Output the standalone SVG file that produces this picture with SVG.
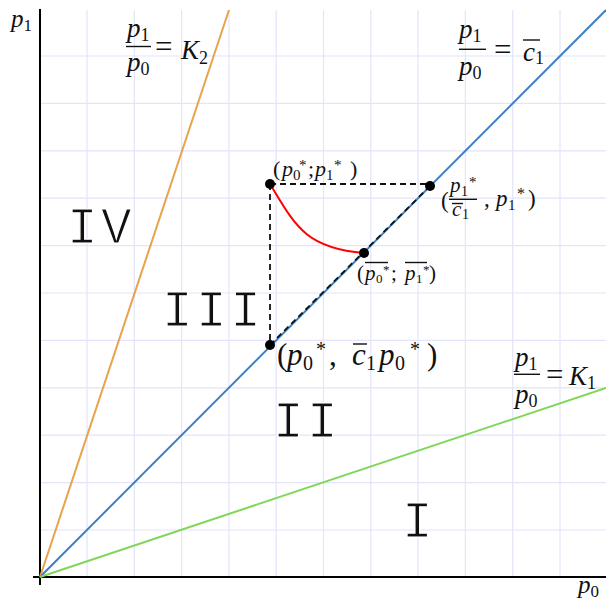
<svg xmlns="http://www.w3.org/2000/svg" width="606" height="603" viewBox="0 0 606 603">
<style>
.grid{stroke:#e4e4fa;stroke-width:1.2;fill:none}
.axis{stroke:#000;stroke-width:2;fill:none}
.dash{stroke:#111;stroke-width:1.8;stroke-dasharray:6,4;fill:none}
.m{font-family:"Liberation Serif","DejaVu Serif",serif;fill:#111}
.i{font-style:italic}
.roman{font-family:"Liberation Mono","Courier New",monospace;font-size:51px;letter-spacing:3.5px;fill:#111;stroke:#fff;stroke-width:1.2px}
.pt{fill:#000}
.bar{stroke:#111;stroke-width:1.4}
</style>
<rect width="606" height="603" fill="#fff"/>
<g id="grid">
<path class="grid" d="M87,10V577M134.3,10V577M181.6,10V577M228.9,10V577M276.2,10V577M323.5,10V577M370.8,10V577M418.1,10V577M465.4,10V577M512.7,10V577M560,10V577M40,56H606M40,103.4H606M40,150.8H606M40,198.2H606M40,245.6H606M40,293H606M40,340.4H606M40,387.8H606M40,435.2H606M40,482.6H606M40,530H606"/>
</g>
<g id="axes">
<path class="axis" d="M40,9V585M33,577H606"/>
<text class="m i" x="11" y="27" font-size="25">p<tspan font-style="normal" font-size="17" dy="4">1</tspan></text>
<text class="m i" x="578" y="593" font-size="25">p<tspan font-style="normal" font-size="17" dy="4">0</tspan></text>
</g>
<g id="connectors">
<line x1="40" y1="577" x2="229" y2="10" stroke="#e8a24c" stroke-width="2"/>
<line x1="40" y1="577" x2="606" y2="10" stroke="#3a80c4" stroke-width="2"/>
<line x1="40" y1="577" x2="606" y2="388" stroke="#80d659" stroke-width="2"/>
<path class="dash" d="M270,184H430"/>
<path class="dash" d="M270,184V345"/>
<path class="dash" d="M270,345L430,186"/>
<path d="M270,184C295,225 305,248 364,253" stroke="#ff0000" stroke-width="2" fill="none"/>
</g>
<g id="label-K2">
<text class="m i" x="127" y="37" font-size="27">p<tspan font-style="normal" font-size="18" dy="4">1</tspan></text>
<line class="bar" x1="126" y1="46.5" x2="151" y2="46.5"/>
<text class="m i" x="127" y="71" font-size="27">p<tspan font-style="normal" font-size="18" dy="4">0</tspan></text>
<text class="m" x="155" y="57" font-size="31">=</text>
<text class="m i" x="181" y="59" font-size="27">K<tspan font-style="normal" font-size="18" dy="5">2</tspan></text>
</g>
<g id="label-c1">
<text class="m i" x="459" y="38" font-size="27">p<tspan font-style="normal" font-size="18" dy="4">1</tspan></text>
<line class="bar" x1="459" y1="49.3" x2="486" y2="49.3"/>
<text class="m i" x="459" y="75" font-size="27">p<tspan font-style="normal" font-size="18" dy="4">0</tspan></text>
<text class="m" x="494" y="60" font-size="31">=</text>
<text class="m i" x="523" y="61" font-size="27">c<tspan font-style="normal" font-size="18" dy="3">1</tspan></text>
<line class="bar" x1="523" y1="40" x2="540" y2="40"/>
</g>
<g id="label-K1">
<text class="m i" x="515" y="366" font-size="27">p<tspan font-style="normal" font-size="18" dy="4">1</tspan></text>
<line class="bar" x1="514" y1="374.3" x2="540" y2="374.3"/>
<text class="m i" x="515" y="403" font-size="27">p<tspan font-style="normal" font-size="18" dy="4">0</tspan></text>
<text class="m" x="546" y="385" font-size="31">=</text>
<text class="m i" x="569" y="385" font-size="27">K<tspan font-style="normal" font-size="18" dy="4">1</tspan></text>
</g>
<g id="region-IV"><text class="roman" x="67" y="243">IV</text></g>
<g id="region-III"><text class="roman" x="162" y="326">III</text></g>
<g id="region-II"><text class="roman" x="273" y="437">II</text></g>
<g id="region-I"><text class="roman" x="402" y="537">I</text></g>
<g id="point-p0p1">
<circle class="pt" cx="270" cy="184" r="5"/>
<text class="m" font-size="22"><tspan x="273" y="176">(</tspan><tspan class="i" x="282" y="176">p</tspan><tspan font-size="15" x="293" y="180">0</tspan><tspan font-size="15" x="299" y="170">*</tspan><tspan x="308" y="176">;</tspan><tspan class="i" x="315" y="176">p</tspan><tspan font-size="15" x="326" y="180">1</tspan><tspan font-size="15" x="334" y="170">*</tspan><tspan x="350" y="176">)</tspan></text>
</g>
<g id="point-c1">
<circle class="pt" cx="430" cy="186" r="5"/>
<text class="m" x="441" y="208" font-size="23">(</text>
<text class="m" font-size="21"><tspan class="i" x="450" y="192">p</tspan><tspan font-size="14" x="461" y="196">1</tspan><tspan font-size="15" x="469" y="187">*</tspan></text>
<line class="bar" x1="449" y1="199.3" x2="477" y2="199.3"/>
<text class="m" font-size="21"><tspan class="i" x="452" y="216">c</tspan><tspan font-size="14" x="462" y="219">1</tspan></text>
<line class="bar" x1="452" y1="203.5" x2="463" y2="203.5"/>
<text class="m" font-size="23"><tspan x="484" y="206">,</tspan><tspan class="i" x="496" y="206">p</tspan><tspan font-size="15" x="508" y="210">1</tspan><tspan font-size="16" x="517" y="199">*</tspan><tspan x="528" y="206">)</tspan></text>
</g>
<g id="point-bar">
<circle class="pt" cx="364" cy="253" r="5"/>
<text class="m" font-size="21"><tspan x="357" y="280">(</tspan><tspan class="i" x="365" y="280">p</tspan><tspan font-size="13" x="376" y="283">0</tspan><tspan font-size="13" x="383" y="274">*</tspan><tspan x="391" y="280">;</tspan><tspan class="i" x="405" y="280">p</tspan><tspan font-size="13" x="416" y="283">1</tspan><tspan font-size="13" x="423" y="274">*</tspan><tspan x="429" y="280">)</tspan></text>
<line class="bar" x1="365" y1="262.5" x2="388" y2="262.5"/>
<line class="bar" x1="405" y1="262.5" x2="427" y2="262.5"/>
</g>
<g id="point-c1p0">
<circle class="pt" cx="270" cy="345" r="5"/>
<text class="m" font-size="31"><tspan x="277" y="365">(</tspan><tspan class="i" x="287" y="365">p</tspan><tspan font-size="20" x="303" y="370">0</tspan><tspan font-size="20" x="316" y="356">*</tspan><tspan x="329" y="365">,</tspan><tspan class="i" x="352" y="365">c</tspan><tspan font-size="20" x="366" y="370">1</tspan><tspan class="i" x="379" y="365">p</tspan><tspan font-size="20" x="395" y="370">0</tspan><tspan font-size="20" x="410" y="356">*</tspan><tspan x="427" y="365">)</tspan></text>
<line class="bar" x1="353" y1="344" x2="367" y2="344"/>
</g>
</svg>
